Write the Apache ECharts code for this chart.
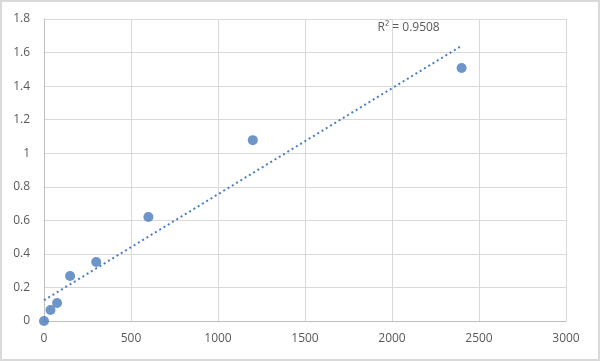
<!DOCTYPE html>
<html><head><meta charset="utf-8">
<script src="https://cdn.jsdelivr.net/npm/echarts@6/dist/echarts.min.js"></script>
<style>html,body{margin:0;padding:0;background:#fff}#c{width:596px;height:357px;border:2px solid #d9d9d9}</style>
</head><body><div id="c"></div>
<script>
var xValues = [0, 37.5, 75, 150, 300, 600, 1200, 2400];
var yValues = [0, 0.066, 0.107, 0.268, 0.352, 0.62, 1.078, 1.508];
var r2Label = 'R\u00b2 = 0.9508';

// least-squares linear trendline computed from the data
var n = xValues.length, sx = 0, sy = 0, sxx = 0, sxy = 0;
for (var i = 0; i < n; i++) { sx += xValues[i]; sy += yValues[i]; sxx += xValues[i]*xValues[i]; sxy += xValues[i]*yValues[i]; }
var slope = (n*sxy - sx*sy) / (n*sxx - sx*sx);
var intercept = (sy - slope*sx) / n;
var xMin = xValues[0], xMax = xValues[n-1];
var trend = [[xMin, intercept + slope*xMin], [xMax, intercept + slope*xMax]];

var chart = echarts.init(document.getElementById('c'));
var txt = {color:'#595959', fontSize:12, fontFamily:'Open Sans'};
chart.setOption({
  animation:false,
  grid:{left:42, right:32, top:17, bottom:38},
  xAxis:{type:'value', min:0, max:3000, interval:500,
    axisLine:{show:true, onZero:false, lineStyle:{color:'#bfbfbf'}}, axisTick:{show:false},
    splitLine:{lineStyle:{color:'#d9d9d9'}},
    axisLabel:Object.assign({margin:12, formatter:function(v){return String(v);}}, txt)},
  yAxis:{type:'value', min:0, max:1.8, interval:0.2,
    axisLine:{show:true, lineStyle:{color:'#bfbfbf'}}, axisTick:{show:false},
    splitLine:{lineStyle:{color:'#d9d9d9'}},
    axisLabel:Object.assign({margin:14, formatter:function(v){return String(Math.round(v*10)/10);}}, txt)},
  series:[
    {type:'line', data:trend, symbol:'none', lineStyle:{color:'#4A7EBF', width:2, type:[2,3]},
     endLabel:{show:true, formatter:r2Label, color:'#595959', fontSize:12, fontFamily:'Open Sans', offset:[-92,-18]}},
    {type:'scatter', data:xValues.map(function(x,i){return [x, yValues[i]];}), symbolSize:10,
     itemStyle:{color:'#4A7BBD'}}
  ]
});
</script></body></html>
